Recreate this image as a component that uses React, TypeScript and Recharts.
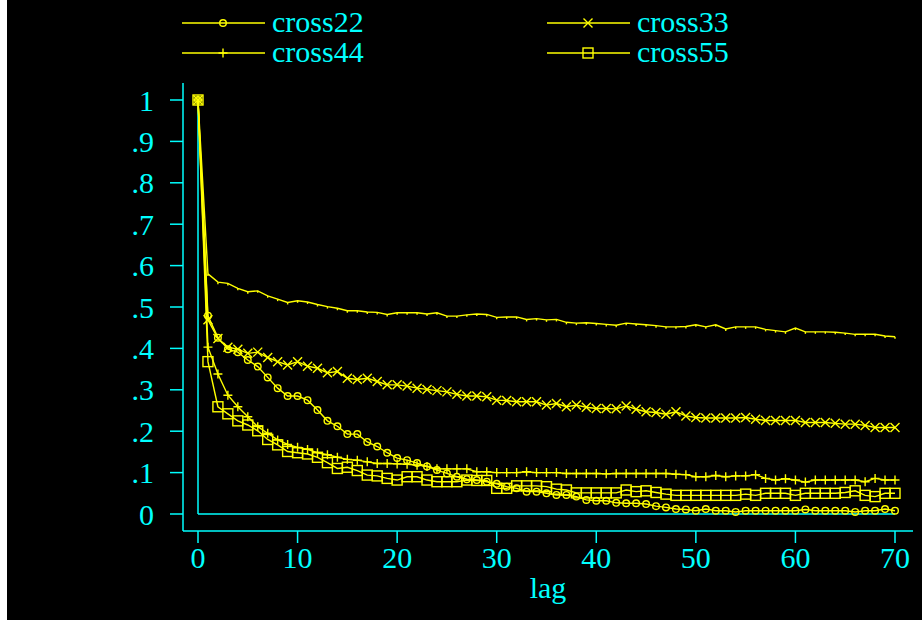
import { Legend, Line, LineChart, ReferenceLine, XAxis, YAxis } from "recharts";

const lags = [
  0, 1, 2, 3, 4, 5, 6, 7, 8, 9, 10, 11, 12, 13, 14, 15, 16, 17, 18, 19, 20,
  21, 22, 23, 24, 25, 26, 27, 28, 29, 30, 31, 32, 33, 34, 35, 36, 37, 38, 39, 40,
  41, 42, 43, 44, 45, 46, 47, 48, 49, 50, 51, 52, 53, 54, 55, 56, 57, 58, 59, 60,
  61, 62, 63, 64, 65, 66, 67, 68, 69, 70,
];

// top line, no legend entry
const cross11 = [
  1, 0.58, 0.56, 0.557, 0.545, 0.537, 0.539, 0.527, 0.519, 0.511, 0.515,
  0.512, 0.506, 0.501, 0.497, 0.491, 0.491, 0.488, 0.487, 0.482, 0.486,
  0.486, 0.486, 0.483, 0.486, 0.478, 0.478, 0.481, 0.483, 0.482, 0.475,
  0.476, 0.476, 0.47, 0.472, 0.469, 0.47, 0.463, 0.461, 0.462, 0.46,
  0.458, 0.456, 0.461, 0.459, 0.457, 0.455, 0.452, 0.452, 0.453, 0.457,
  0.452, 0.457, 0.447, 0.452, 0.452, 0.452, 0.446, 0.443, 0.44, 0.449,
  0.44, 0.44, 0.44, 0.439, 0.437, 0.434, 0.434, 0.434, 0.43, 0.428,
];

const cross22 = [
  1, 0.479, 0.426, 0.398, 0.391, 0.372, 0.356, 0.33, 0.304, 0.285, 0.285,
  0.275, 0.251, 0.225, 0.212, 0.193, 0.193, 0.174, 0.163, 0.148, 0.135,
  0.13, 0.123, 0.115, 0.106, 0.098, 0.09, 0.084, 0.082, 0.078, 0.073,
  0.066, 0.062, 0.054, 0.054, 0.05, 0.046, 0.046, 0.042, 0.034, 0.032,
  0.032, 0.027, 0.026, 0.026, 0.024, 0.019, 0.016, 0.012, 0.011, 0.008,
  0.012, 0.008, 0.008, 0.005, 0.008, 0.008, 0.008, 0.008, 0.008, 0.008,
  0.011, 0.008, 0.008, 0.008, 0.008, 0.005, 0.008, 0.008, 0.012, 0.008,
];

const cross33 = [
  1, 0.469, 0.424, 0.403, 0.398, 0.388, 0.391, 0.378, 0.368, 0.36, 0.368,
  0.357, 0.352, 0.341, 0.344, 0.328, 0.325, 0.328, 0.32, 0.312, 0.312,
  0.309, 0.304, 0.301, 0.298, 0.295, 0.289, 0.285, 0.285, 0.283, 0.275,
  0.274, 0.271, 0.271, 0.271, 0.263, 0.267, 0.259, 0.263, 0.258, 0.255,
  0.255, 0.254, 0.261, 0.253, 0.247, 0.245, 0.241, 0.247, 0.237, 0.233,
  0.232, 0.232, 0.232, 0.232, 0.233, 0.229, 0.226, 0.226, 0.226, 0.226,
  0.221, 0.221, 0.221, 0.219, 0.217, 0.217, 0.214, 0.209, 0.209, 0.209,
];

const cross44 = [
  1, 0.403, 0.338, 0.287, 0.259, 0.235, 0.211, 0.195, 0.179, 0.168, 0.161,
  0.156, 0.148, 0.143, 0.137, 0.132, 0.13, 0.126, 0.122, 0.122, 0.121,
  0.12, 0.118, 0.115, 0.109, 0.109, 0.109, 0.109, 0.102, 0.102, 0.1,
  0.1, 0.1, 0.102, 0.1, 0.1, 0.1, 0.098, 0.098, 0.098, 0.098,
  0.097, 0.098, 0.098, 0.098, 0.098, 0.098, 0.098, 0.096, 0.095, 0.09,
  0.09, 0.093, 0.09, 0.092, 0.092, 0.095, 0.086, 0.082, 0.085, 0.082,
  0.077, 0.082, 0.082, 0.082, 0.082, 0.082, 0.078, 0.086, 0.082, 0.082,
];

const cross55 = [
  1, 0.368, 0.259, 0.242, 0.225, 0.215, 0.201, 0.18, 0.167, 0.151, 0.148,
  0.145, 0.137, 0.124, 0.11, 0.113, 0.105, 0.094, 0.092, 0.086, 0.082,
  0.09, 0.09, 0.082, 0.078, 0.078, 0.078, 0.082, 0.081, 0.081, 0.062,
  0.062, 0.068, 0.068, 0.068, 0.066, 0.06, 0.058, 0.051, 0.051, 0.051,
  0.051, 0.051, 0.058, 0.054, 0.056, 0.052, 0.048, 0.045, 0.045, 0.045,
  0.045, 0.045, 0.045, 0.045, 0.048, 0.045, 0.05, 0.05, 0.05, 0.045,
  0.05, 0.05, 0.05, 0.05, 0.052, 0.056, 0.045, 0.042, 0.05, 0.05,
];

const xTicks = [0, 10, 20, 30, 40, 50, 60, 70];
const yTicks = [0, 0.1, 0.2, 0.3, 0.4, 0.5, 0.6, 0.7, 0.8, 0.9, 1];

const data = lags.map((lag, i) => ({
  lag,
  cross11: cross11[i],
  cross22: cross22[i],
  cross33: cross33[i],
  cross44: cross44[i],
  cross55: cross55[i],
}));

const YELLOW = "#ffff00";
const CYAN = "#00ffff";
const FONT = "'Liberation Serif', 'Times New Roman', serif";

type Shape = "tick" | "circle" | "x" | "plus" | "square";

function marker(shape: Shape, cx: number, cy: number, key?: string | number) {
  const p = { key, stroke: YELLOW, strokeWidth: 1.4, fill: "none" };
  switch (shape) {
    case "circle":
      return <circle {...p} cx={cx} cy={cy} r={3.3} />;
    case "x":
      return (
        <path {...p} d={`M${cx - 4.5},${cy - 4.5}L${cx + 4.5},${cy + 4.5}M${cx - 4.5},${cy + 4.5}L${cx + 4.5},${cy - 4.5}`} />
      );
    case "plus":
      return <path {...p} d={`M${cx - 4.5},${cy}L${cx + 4.5},${cy}M${cx},${cy - 4.5}L${cx},${cy + 4.5}`} />;
    case "square":
      return <rect {...p} x={cx - 5} y={cy - 5} width={10} height={10} />;
    default:
      return <path {...p} d={`M${cx},${cy}L${cx},${cy + 2}`} />;
  }
}

const dotFor = (shape: Shape) => (props: any) => {
  const { cx, cy, index } = props;
  if (cx == null || cy == null) return <g key={index} />;
  return marker(shape, cx, cy, index);
};

const series: { key: string; shape: Shape; legend: boolean }[] = [
  { key: "cross11", shape: "tick", legend: false },
  { key: "cross22", shape: "circle", legend: true },
  { key: "cross33", shape: "x", legend: true },
  { key: "cross44", shape: "plus", legend: true },
  { key: "cross55", shape: "square", legend: true },
];

function LegendBox() {
  const items = series.filter((s) => s.legend);
  const cols = [175, 540];
  const rows = [23, 53];
  return (
    <svg width={915} height={70} style={{ display: "block" }}>
      {items.map((s, i) => {
        const x = cols[i % 2];
        const y = rows[Math.floor(i / 2)];
        return (
          <g key={s.key}>
            <line x1={x} x2={x + 83} y1={y} y2={y} stroke={YELLOW} strokeWidth={1.4} />
            {marker(s.shape, x + 41, y)}
            <text x={x + 90} y={y + 9} fill={CYAN} fontSize={30} fontFamily={FONT}>
              {s.key}
            </text>
          </g>
        );
      })}
    </svg>
  );
}

const yFmt = (v: number) => {
  if (v === 0) return "0";
  if (v === 1) return "1";
  return "." + Math.round(v * 10);
};

export default function App() {
  return (
    <div
      style={{
        position: "absolute",
        left: 7,
        top: 0,
        width: 915,
        height: 620,
        background: "#000",
      }}
    >
      <LineChart
        width={915}
        height={620}
        data={data}
        margin={{ top: 83, right: 9, bottom: 0, left: 0 }}
      >
        <XAxis
          dataKey="lag"
          type="number"
          domain={[0, 70]}
          ticks={xTicks}
          padding={{ left: 15, right: 18 }}
          height={89}
          tickSize={12}
          tickMargin={4}
          axisLine={{ stroke: CYAN, strokeWidth: 1.5 }}
          tickLine={{ stroke: CYAN, strokeWidth: 1.5 }}
          tick={{ fill: CYAN, fontSize: 30, fontFamily: FONT }}
          label={{
            value: "lag",
            position: "insideBottom",
            offset: 22,
            fill: CYAN,
            fontSize: 30,
            fontFamily: FONT,
          }}
        />
        <YAxis
          type="number"
          domain={[0, 1]}
          ticks={yTicks}
          padding={{ top: 17, bottom: 17 }}
          width={176}
          tickSize={13}
          tickMargin={16}
          tickFormatter={yFmt}
          axisLine={{ stroke: CYAN, strokeWidth: 1.5 }}
          tickLine={{ stroke: CYAN, strokeWidth: 1.5 }}
          tick={{ fill: CYAN, fontSize: 30, fontFamily: FONT }}
        />
        <ReferenceLine
          segment={[
            { x: 0, y: 0 },
            { x: 0, y: 1 },
          ]}
          stroke={CYAN}
          strokeWidth={1.5}
        />
        <ReferenceLine
          segment={[
            { x: 0, y: 0 },
            { x: 70, y: 0 },
          ]}
          stroke={CYAN}
          strokeWidth={1.5}
        />
        <Legend
          layout="vertical"
          align="center"
          verticalAlign="middle"
          wrapperStyle={{ top: 0, left: 0, width: 915, height: 70 }}
          content={() => <LegendBox />}
        />
        {series.map((s) => (
          <Line
            key={s.key}
            dataKey={s.key}
            type="linear"
            stroke={YELLOW}
            strokeWidth={1.4}
            dot={dotFor(s.shape)}
            activeDot={false}
            legendType={s.legend ? "line" : "none"}
            isAnimationActive={false}
          />
        ))}
      </LineChart>
    </div>
  );
}
